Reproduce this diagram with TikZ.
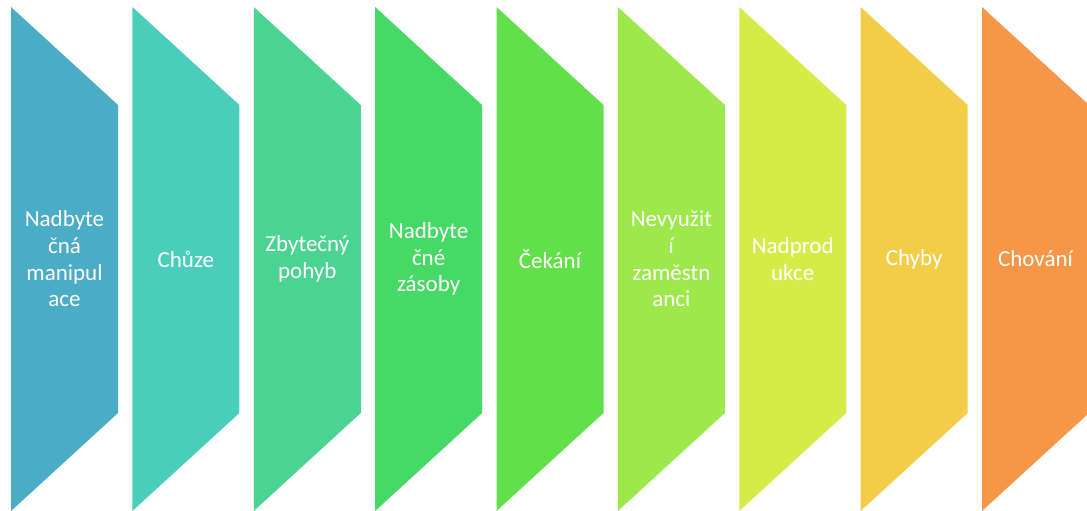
\documentclass[tikz,border=0pt]{standalone}
\usepackage{fontspec}
\setmainfont{Carlito}
\definecolor{c1}{HTML}{4BACC6}
\definecolor{c2}{HTML}{4ACDBB}
\definecolor{c3}{HTML}{4AD391}
\definecolor{c4}{HTML}{46D966}
\definecolor{c5}{HTML}{62E049}
\definecolor{c6}{HTML}{9DE84B}
\definecolor{c7}{HTML}{D4EB48}
\definecolor{c8}{HTML}{F2CE48}
\definecolor{c9}{HTML}{F79646}
\tikzset{
  steplabel/.style={text=white, align=center, font=\fontsize{23}{26.7}\selectfont, inner sep=0pt},
}
\begin{document}
\begin{tikzpicture}[x=1pt,y=-1pt]
\useasboundingbox (0,0) rectangle (1087,511);
\clip (0,0) rectangle (1087,511);
% Chevron-like bands, one per waste category
\foreach \i/\lbl in {1/{Nadbyte\\čná\\manipul\\ace},
                     2/{Chůze},
                     3/{Zbytečný\\pohyb},
                     4/{Nadbyte\\čné\\zásoby},
                     5/{Čekání},
                     6/{Nevyužit\\í\\zaměstn\\anci},
                     7/{Nadprod\\ukce},
                     8/{Chyby},
                     9/{Chování}} {
  \pgfmathsetmacro{\xl}{11+(\i-1)*121.375}
  \pgfmathsetmacro{\xr}{\xl+107}
  \fill[c\i] (\xl,7) -- (\xr,105) -- (\xr,413) -- (\xl,511) -- cycle;
  \node[steplabel] (s\i) at ({(\xl+\xr)/2},259) {\lbl};
}
\end{tikzpicture}
\end{document}
